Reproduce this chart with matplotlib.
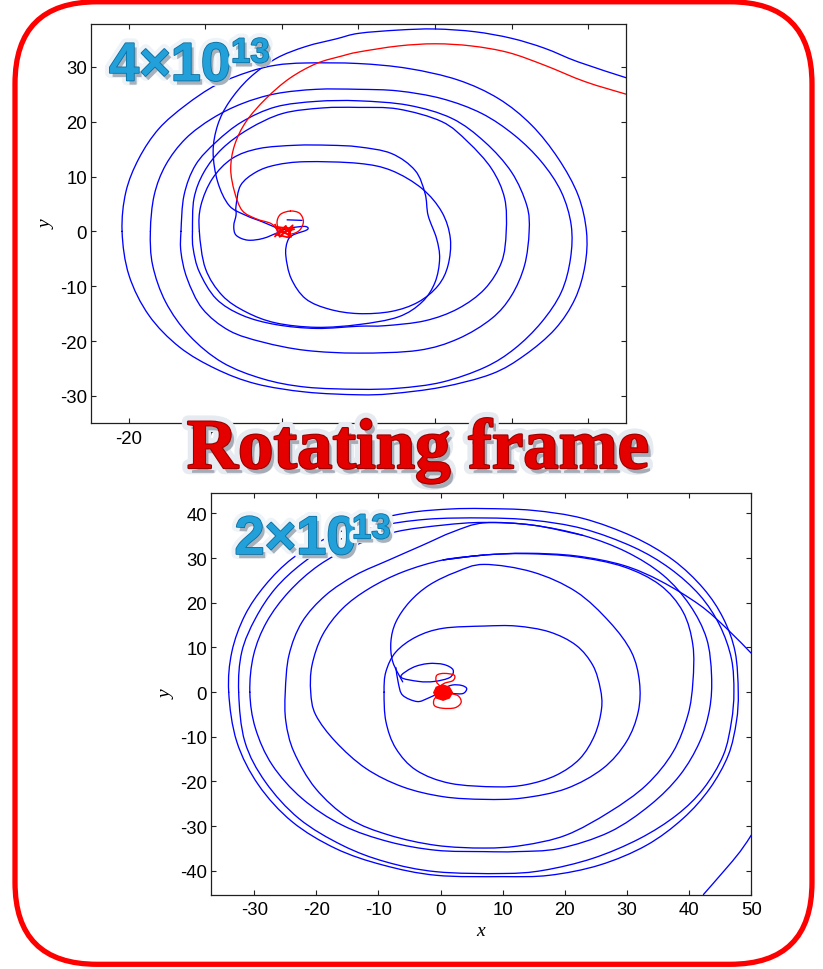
import matplotlib
matplotlib.use("Agg")
import matplotlib.pyplot as plt
import matplotlib.patheffects as pe
from matplotlib.patches import FancyBboxPatch, Polygon, PathPatch
from matplotlib.path import Path

plt.rcParams["axes.unicode_minus"] = False
plt.rcParams["font.family"] = ["Liberation Sans", "DejaVu Sans"]

# ---------------- top panel (4x10^13) ----------------
top_xlim = (-25, 45)
top_ylim = (-35, 37.9)
top_xticks = [-20, -10, 0, 10, 20, 30, 40]
top_yticks = [-30, -20, -10, 0, 10, 20, 30]

top_ring_a = [(-20.9, 0), (-20.4, 7.2), (-18.7, 13.3), (-16.1, 18.7), (-12.6, 23), (-8.6, 26.7),
              (-4.3, 29.1), (-0.8, 30.3), (3.1, 30.7), (10, 30.6), (16.5, 29.7), (23, 27.6),
              (28.3, 24.2), (32.6, 19.4), (36.1, 13.3), (38.7, 6.6), (39.8, -0.1), (39.6, -6.2),
              (38.3, -12.3), (35.7, -17.8), (31.7, -22.6), (27.4, -26), (20.9, -28.4), (14.3, -29.6),
              (10, -29.8), (3.1, -29.3), (-3.4, -27.8), (-8.6, -25.1), (-13.4, -21.1), (-17.4, -15.3),
              (-20, -8), (-20.9, 0)]
top_ring_b = [(-17.2, 0), (-16.7, 6.6), (-15.2, 12.1), (-12.6, 16.9), (-9.1, 20.6), (-5.2, 23.3),
              (-0.8, 25.1), (4.5, 25.9), (10, 25.9), (15.2, 25.6), (20.9, 24.2), (26.1, 21.5),
              (30.4, 17.5), (33.9, 12.7), (36.5, 7.2), (37.8, 1.1), (37.7, -5), (36.5, -11.1),
              (33.9, -16.6), (30.4, -21.4), (26.5, -24.8), (20.9, -27.5), (15.2, -28.6), (10, -28.8),
              (3.1, -28.4), (-2.5, -26.9), (-7.8, -23.9), (-12.1, -19), (-15.2, -12.9), (-16.9, -6.2),
              (-17.2, 0)]
top_ring_c = [(-13.2, 0), (-12.8, 6.6), (-11.3, 12.1), (-8.6, 16.3), (-5.2, 20), (-0.8, 22.7),
              (4.5, 23.7), (10, 23.8), (16.5, 23), (22.2, 20.6), (26.5, 16.3), (30, 10.8), (32, 4.7),
              (32.3, 0), (31.7, -6.2), (30, -11.7), (27.4, -15.9), (23, -19.6), (17.8, -21.7),
              (10, -22.2), (3.1, -21.7), (-2.5, -20.2), (-6.9, -18.1), (-10.4, -14.1), (-12.4, -8.6),
              (-13.2, -3.8), (-13.2, 0)]
top_ring_d = [(-11.7, 0), (-11.5, 6), (-10.2, 10.8), (-7.8, 15.1), (-4.3, 18.7), (0.1, 21.5),
              (5.3, 22.5), (10, 22.6), (15.2, 22.3), (20.9, 20), (24.3, 16.3), (27.4, 11.4), (29.1, 6),
              (29.3, -0.1), (28.7, -5.6), (26.5, -10.5), (23, -14.1), (18.7, -16.3), (13.5, -17.2),
              (10, -17.3), (4.5, -17.7), (-0.8, -17), (-5.2, -15.3), (-8.6, -12.3), (-10.8, -7.4),
              (-11.6, -3.2), (-11.7, 0)]
top_ring_e = [(-10.8, 0), (-10.6, 4.7), (-9.1, 9.6), (-6.5, 13.3), (-3, 15.1), (1.8, 15.7),
              (6.2, 15.7), (10, 15.4), (14.3, 14.2), (17.4, 11.1), (18.7, 6.9), (19.1, 2.9),
              (20.2, -1.3), (20.6, -5), (20, -9.3), (18.3, -12.9), (15.2, -15.6), (10, -17),
              (4.5, -17.5), (-0.8, -16.7), (-4.7, -14.7), (-7.8, -11.7), (-10, -6.8), (-10.8, 0)]
top_ring_f = [(-0.5, -0.2), (-2.5, -1.3), (-4.5, -1.6), (-6, -0.7), (-6.3, 1), (-6, 3), (-6, 4.7),
              (-5.4, 8.4), (-3.4, 10.8), (-0.8, 12.1), (3.1, 12.7), (10, 12.4), (14.3, 11.1),
              (18.3, 7.8), (20.9, 3.5), (22, -1.3), (21.7, -6.2), (20.4, -9.9), (17.8, -12.9),
              (14.3, -14.6), (10, -15), (6.2, -14.2), (3.1, -12.3), (1.2, -8.6), (0.5, -4.4),
              (0.7, -1.9), (1.4, -0.7), (3.3, 0.3), (3, 0.9), (1, 0.6), (-0.5, 0)]
top_ring_g = [(-0.5, 0.5), (-2.5, 1.7), (-4.7, 2.9), (-6.9, 4.7), (-8.4, 9), (-9, 14.5), (-8.4, 19.4),
              (-6.9, 23.6), (-4.3, 27.9), (-0.8, 31.5), (3.1, 33.7), (7.1, 35.1), (10, 36.1),
              (15.2, 36.7), (20, 36.9), (25.2, 36.4), (30, 35.2), (34.3, 33.4), (38.7, 30.9), (45, 28)]
top_blue_dash = [(0.7, 2.1), (2.6, 2.0)]
top_red_arc = [(-0.5, 0), (-1.4, 1.4), (-3.4, 2.3), (-5.2, 3.8), (-6.2, 7.2), (-6.7, 11.4),
               (-6.2, 15.7), (-4.7, 20), (-2.1, 24.2), (1, 27.9), (4.5, 30.6), (7.9, 32), (10, 32.7),
               (15.2, 33.8), (20, 34.2), (24.8, 33.8), (29.6, 32.6), (34.3, 30.3), (39.6, 27.3), (45, 25)]
top_red_loop = [(1.1, 3.7), (2.3, 3.3), (2.8, 1.8), (2.3, 0.2), (1.1, -0.5), (-0.2, 0), (-0.65, 1.6),
                (-0.2, 3.1), (1.1, 3.7)]
top_red_blob = [(-0.9, -0.9), (0.5, 1.0), (1.2, -1.0), (-0.6, 0.8), (1.6, 0.4), (-0.9, -0.5),
                (0.8, -1.1), (1.4, 1.1), (-0.3, -1.0), (-0.9, 1.2)]

# ---------------- bottom panel (2x10^13) ----------------
bot_xlim = (-37, 50)
bot_ylim = (-45.3, 44.7)
bot_xticks = [-30, -20, -10, 0, 10, 20, 30, 40, 50]
bot_yticks = [-40, -30, -20, -10, 0, 10, 20, 30, 40]

bot_ring_a = [(-9.1, 0), (-8.8, 4.6), (-7.2, 9), (-3.9, 12.4), (0.4, 14.3), (7, 14.8), (12.2, 14.8),
              (17.5, 13.5), (21.8, 10.5), (24.5, 6), (25.7, 0.8), (25.9, -3.7), (24.8, -9.6),
              (22.4, -14.9), (18.6, -18.6), (13.8, -20.7), (8.9, -21.2), (1.5, -20.4), (-3.9, -17.5),
              (-7.2, -12.6), (-8.8, -6.6), (-9.1, 0)]
bot_ring_b = [(-6.1, 2.3), (-7.7, 6.8), (-8, 11.3), (-7.2, 15.7), (-5, 20.2), (-1.8, 24), (2.5, 26.9),
              (7, 28.6), (14.8, 26.9), (21.8, 22.5), (27.2, 15.7), (30.7, 9), (32, 2.3), (31.8, -4.4),
              (29.9, -11.1), (26.1, -17.1), (20.2, -21.6), (13.2, -23.7), (7, -24), (0.4, -23.4),
              (-6.1, -21.2), (-12, -17.1), (-16.9, -11.1), (-20.1, -5.1), (-20.9, 0), (-20.7, 6),
              (-19, 12.8), (-15.8, 18.7), (-11.5, 23.2), (-6.1, 26.9), (0.4, 29.6), (7, 30.7)]
bot_ring_c = [(0.4, 29.6), (7, 30.7), (13.8, 31), (21.8, 30.3), (29.4, 28.1), (35.3, 24), (39, 18),
              (40.6, 10.5), (40.6, 2.3), (39.8, -5.1), (37.4, -13.4), (33.1, -20.8), (27.2, -26.8),
              (20.2, -32), (13.2, -34.3), (7, -34.9), (-0.7, -34.3), (-8.3, -32), (-14.7, -28.3),
              (-20.1, -21.6), (-23.6, -13.4), (-24.9, -6.6), (-25, 0), (-24.4, 8.3), (-22.3, 15.7),
              (-18.5, 21.7), (-13.7, 26.2), (-8.3, 29.6), (-2.9, 32.9), (2, 35.9), (7, 37.9),
              (14.8, 37.4), (22.9, 35.1)]
bot_ring_d = [(-30.7, 0), (-30.1, 8.3), (-28, 15.7), (-24.4, 22.5), (-19.6, 28.4), (-13.7, 32.9),
              (-7.2, 35.9), (0.4, 37.4), (7, 38), (14.8, 37.4), (22.9, 35.1), (29.9, 31.4),
              (35.8, 26.2), (40.1, 19.5), (42.8, 12), (43.6, 3.8), (43.3, -3.7), (41.7, -11.1),
              (38.5, -18.6), (33.7, -25.3), (27.2, -31.3), (19.1, -35), (12.2, -35.7), (7, -35.7),
              (-0.7, -35.4), (-8.3, -33.5), (-15.8, -29.8), (-22.3, -23.8), (-27.1, -16.3),
              (-29.8, -8.1), (-30.7, 0)]
bot_ring_e = [(-32.5, 0), (-32, 9), (-29.8, 16.5), (-26.6, 23.2), (-22.3, 28.8), (-16.9, 33.7),
              (-10.4, 37), (-2.3, 38.7), (7, 39), (14.8, 38.5), (22.9, 36.6), (31, 32.5), (36.9, 27.7),
              (41.7, 21.7), (44.9, 15), (46.8, 7.5), (47.2, 0), (46.8, -6.6), (45.5, -14.1),
              (42.3, -21.6), (38, -27.5), (32, -32.8), (24.5, -37.2), (16.5, -39.9), (10, -40.6),
              (-0.7, -40.2), (-8.8, -38), (-15.8, -34.3), (-22.8, -28.3), (-28.2, -20.1),
              (-31.5, -11.1), (-32.5, 0)]
bot_ring_f = [(-34.1, 0), (-33.6, 9), (-31.5, 17.2), (-28.2, 24), (-23.9, 29.9), (-18.5, 34.4),
              (-12, 38.1), (-5, 40.2), (1.5, 41), (7, 41.1), (14.8, 40.7), (22.9, 38.9), (31, 34.8),
              (37.4, 29.6), (42.3, 23.2), (45.5, 16.5), (47.4, 9), (47.9, 0), (47.6, -6.6),
              (46.3, -14.1), (43.3, -21.6), (39, -28.3), (33.1, -34.3), (25.6, -38.7), (17.5, -41),
              (10, -41.3), (-0.7, -41), (-9.3, -38.7), (-16.9, -35), (-23.9, -29), (-29.3, -20.8),
              (-32.8, -11.1), (-34.1, 0)]
bot_exit_arc = [(0.4, 29.6), (7, 30.7), (13.8, 31.1), (21.8, 30.5), (29.4, 28.4), (35.5, 24.8),
                (41.7, 19.5), (46, 14.3), (50, 8.7)]
bot_corner_arc = [(42.3, -45.3), (45.5, -40.2), (48.2, -35.7), (50, -32)]
bot_petal_up = [(-6.4, 3.4), (-4.5, 5.5), (-2, 6.4), (0.5, 6.2), (2.0, 5.0), (1.5, 3.3), (-1, 2.4),
                (-3.5, 2.4), (-6.4, 3.4)]
bot_petal_right = [(0.3, 0.8), (1.9, 1.6), (3.4, 1.5), (4.2, 0.8), (3.6, -0.3), (1.9, -0.3), (0.3, 0)]
bot_petal_low = [(-7.2, 5.5), (-6.8, 2), (-6.1, -0.7), (-3.8, -2.1), (-2.1, -1.4), (-0.4, -0.3), (0.3, 0)]
bot_red_up = [(0, 1.2), (-0.7, 2.4), (-0.6, 3.8), (0.6, 4.2), (2.2, 3.8), (2.0, 2.6), (0.6, 2.0), (-0.2, 1.2)]
bot_red_low = [(0, -0.5), (-1.0, -1.5), (-1.0, -3.0), (0.3, -3.6), (2.3, -3.5), (3.3, -2.3), (2.8, -0.8),
               (1.2, -0.2)]
bot_red_blob = [(0.4, 1.6), (1.4, 1.1), (1.9, -0.1), (1.4, -1.3), (0.4, -1.8), (-0.7, -1.3),
                (-1.1, -0.1), (-0.7, 1.1)]

BLUE = (0, 0, 1)
RED = (1, 0, 0)

fig = plt.figure(figsize=(8.23, 9.70), dpi=100)
fig.patch.set_facecolor("white")


def style_axes(ax, xlim, ylim, xt, yt):
    ax.set_xlim(*xlim)
    ax.set_ylim(*ylim)
    ax.set_xticks(xt)
    ax.set_yticks(yt)
    ax.set_xticklabels([str(v) for v in xt])
    ax.set_yticklabels([str(v) for v in yt])
    ax.tick_params(direction="in", top=True, right=True, length=3.8, width=0.8,
                   labelsize=13.4, color="#202020", labelcolor="black")
    ax.tick_params(axis="x", pad=5)
    ax.tick_params(axis="y", pad=2.5)
    for s in ax.spines.values():
        s.set_linewidth(0.9)
        s.set_color("#202020")


def smooth_path(pts):
    """Smooth (Catmull-Rom style) Bezier path through the traced points."""
    closed = len(pts) > 3 and pts[0] == pts[-1]
    P = pts[:-1] if closed else pts
    n = len(P)
    verts = [P[0]]
    codes = [Path.MOVETO]
    segs = n if closed else n - 1
    for i in range(segs):
        if closed:
            p0, p1, p2, p3 = P[(i - 1) % n], P[i % n], P[(i + 1) % n], P[(i + 2) % n]
        else:
            p0, p1 = P[max(i - 1, 0)], P[i]
            p2, p3 = P[i + 1], P[min(i + 2, n - 1)]
        c1 = (p1[0] + (p2[0] - p0[0]) / 6.0, p1[1] + (p2[1] - p0[1]) / 6.0)
        c2 = (p2[0] - (p3[0] - p1[0]) / 6.0, p2[1] - (p3[1] - p1[1]) / 6.0)
        verts += [c1, c2, p2]
        codes += [Path.CURVE4] * 3
    return Path(verts, codes)


def draw(ax, pts, color, lw=0.95, z=2):
    ax.add_patch(PathPatch(smooth_path(pts), facecolor="none", edgecolor=color, lw=lw,
                           zorder=z, joinstyle="round", capstyle="round"))


def draw_raw(ax, pts, color, lw=0.95, z=2):
    ax.plot([p[0] for p in pts], [p[1] for p in pts], color=color, lw=lw, zorder=z)


# top axes
ax1 = fig.add_axes([90.7 / 823, 1 - 424.3 / 970, (626.3 - 90.7) / 823, (424.3 - 24.5) / 970])
style_axes(ax1, top_xlim, top_ylim, top_xticks, top_yticks)
for ring in (top_ring_a, top_ring_b, top_ring_c, top_ring_d, top_ring_e, top_ring_f, top_ring_g):
    draw(ax1, ring, BLUE)
draw_raw(ax1, top_blue_dash, BLUE)
draw(ax1, top_red_arc, RED, z=3)
draw(ax1, top_red_loop, RED, z=3)
draw_raw(ax1, top_red_blob, RED, lw=1.3, z=3)
ax1.set_ylabel("y", fontsize=14, fontstyle="italic", family=["Liberation Serif", "DejaVu Serif"])
ax1.yaxis.label.set_va("center")
ax1.yaxis.set_label_coords((47 - 90.7) / 535.6, 0.5)

# bottom axes
ax2 = fig.add_axes([210.7 / 823, 1 - 895.5 / 970, (751.3 - 210.7) / 823, (895.5 - 493.5) / 970])
style_axes(ax2, bot_xlim, bot_ylim, bot_xticks, bot_yticks)
for ring in (bot_ring_a, bot_ring_b, bot_ring_c, bot_ring_d, bot_ring_e, bot_ring_f, bot_exit_arc,
             bot_corner_arc, bot_petal_up, bot_petal_right, bot_petal_low):
    draw(ax2, ring, BLUE)
draw(ax2, bot_red_up, RED, z=3)
draw(ax2, bot_red_low, RED, z=3)
ax2.add_patch(Polygon(bot_red_blob, closed=True, facecolor=RED, edgecolor=RED, lw=1, zorder=3))
ax2.set_ylabel("y", fontsize=14, fontstyle="italic", family=["Liberation Serif", "DejaVu Serif"])
ax2.yaxis.label.set_va("center")
ax2.yaxis.set_label_coords((167 - 210.7) / 540.6, 0.5)
ax2.set_xlabel("x", fontsize=14, fontstyle="italic", family=["Liberation Serif", "DejaVu Serif"])
ax2.xaxis.label.set_va("center")
ax2.xaxis.set_label_coords(0.5, -(932 - 895.5) / 402)

# overlay (pixel coordinates, y down)
ov = fig.add_axes([0, 0, 1, 1], zorder=10)
ov.set_xlim(0, 823)
ov.set_ylim(970, 0)
ov.axis("off")
ov.patch.set_alpha(0)

border = FancyBboxPatch((15, 2.8), 797, 962.5, boxstyle="round,pad=0,rounding_size=82",
                        facecolor="none", edgecolor=RED, lw=3.8)
ov.add_patch(border)

rot_fx = [pe.Stroke(linewidth=9, foreground="#e6ebf1"),
          pe.SimplePatchShadow(offset=(2.5, -3.5), shadow_rgbFace="#5a6070", alpha=0.45),
          pe.Stroke(linewidth=1.6, foreground="#9a0000"),
          pe.Normal()]
ov.text(418, 469, "Rotating frame", ha="center", va="baseline", fontsize=51, fontweight="bold",
        family=["Liberation Serif", "DejaVu Serif"], color="#e50000", path_effects=rot_fx)

num_fx = [pe.Stroke(linewidth=7, foreground="#eef3f8"),
          pe.SimplePatchShadow(offset=(2, -3), shadow_rgbFace="#607080", alpha=0.5),
          pe.Stroke(linewidth=1.2, foreground="#0c6e9e"),
          pe.Normal()]
for (bx, by, sx, sy, base) in ((109, 81.5, 231, 63.3, "4×10"), (234.5, 555, 352, 539.3, "2×10")):
    ov.text(bx, by, base, ha="left", va="baseline", fontsize=39, fontweight="bold",
            family=["Liberation Sans", "DejaVu Sans"], color="#22a0da", path_effects=num_fx)
    ov.text(sx, sy, "13", ha="left", va="baseline", fontsize=25, fontweight="bold",
            family=["Liberation Sans", "DejaVu Sans"], color="#22a0da", path_effects=num_fx)

fig.savefig("out.png", dpi=100, facecolor="white")
